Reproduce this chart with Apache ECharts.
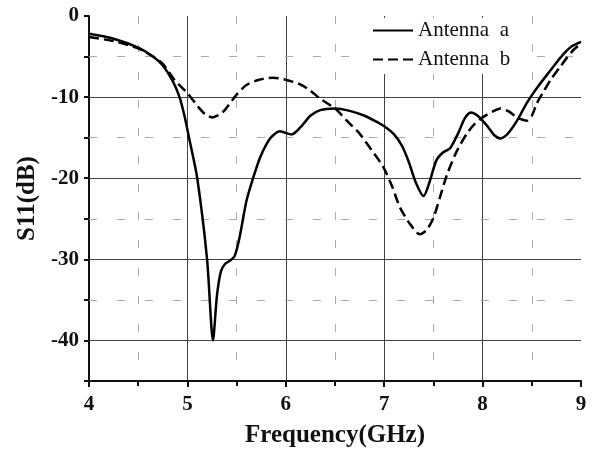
<!DOCTYPE html>
<html>
<head>
<meta charset="utf-8">
<script src="https://cdn.jsdelivr.net/npm/echarts@6/dist/echarts.min.js"></script>
<style>
  html, body { margin: 0; padding: 0; background: #fff; }
  #main { width: 606px; height: 453px; }
</style>
</head>
<body>
<div id="main"></div>
<script>
// Antenna a (solid)
const freqA = [4.0, 4.25, 4.5, 4.65, 4.75, 4.85, 4.92, 4.97, 5.02, 5.10, 5.20, 5.26, 5.30, 5.34, 5.38, 5.44, 5.48, 5.53, 5.60, 5.67, 5.74, 5.84, 5.94, 6.06, 6.15, 6.25, 6.35, 6.5, 6.65, 6.8, 6.9, 7.0, 7.1, 7.18, 7.25, 7.32, 7.40, 7.46, 7.53, 7.60, 7.67, 7.75, 7.82, 7.88, 7.95, 8.05, 8.12, 8.18, 8.25, 8.35, 8.45, 8.55, 8.69, 8.80, 8.90, 9.0]
const s11A  = [-2.2, -2.8, -3.9, -5.0, -6.1, -8.0, -10.0, -12.3, -15.2, -20.0, -30.0, -40.0, -34.5, -31.5, -30.6, -30.1, -29.6, -27.3, -22.8, -19.9, -17.4, -15.1, -14.2, -14.6, -13.7, -12.3, -11.6, -11.4, -11.7, -12.3, -12.9, -13.6, -14.6, -16.0, -18.0, -20.5, -22.2, -20.5, -17.8, -16.8, -16.3, -14.5, -12.6, -11.9, -12.3, -13.6, -14.7, -15.1, -14.6, -12.9, -10.7, -8.9, -6.7, -5.0, -3.8, -3.2]

// Antenna b (dashed)
const freqB = [4.0, 4.25, 4.5, 4.65, 4.75, 4.87, 5.0, 5.11, 5.18, 5.25, 5.32, 5.38, 5.5, 5.6, 5.72, 5.87, 5.98, 6.14, 6.25, 6.35, 6.5, 6.62, 6.75, 6.87, 6.99, 7.08, 7.16, 7.26, 7.36, 7.43, 7.50, 7.57, 7.64, 7.74, 7.84, 7.92, 8.0, 8.1, 8.18, 8.27, 8.35, 8.45, 8.5, 8.55, 8.62, 8.69, 8.78, 8.86, 8.93, 9.0]
const s11B  = [-2.6, -3.1, -4.0, -5.0, -5.9, -7.9, -9.5, -11.2, -12.1, -12.5, -12.2, -11.6, -9.7, -8.5, -7.9, -7.6, -7.8, -8.4, -9.2, -10.2, -11.4, -12.9, -14.5, -16.5, -18.6, -21.0, -23.6, -25.6, -26.9, -26.4, -24.9, -22.2, -19.5, -16.6, -14.5, -13.3, -12.5, -11.8, -11.4, -11.8, -12.5, -12.9, -12.3, -10.8, -9.3, -7.9, -6.4, -5.1, -4.1, -3.4]

const xTicks = [4, 5, 6, 7, 8, 9]
const yTickLabels = [0, -10, -20, -30, -40]
const majorY = [-10, -20, -30, -40]
const minorY = [-5, -15, -25, -35]

const serif = 'Liberation Serif'
const chart = echarts.init(document.getElementById('main'))

const gridLines = majorY.map(v => ({ yAxis: v, lineStyle: { color: '#444', width: 1, type: 'solid' } }))
  .concat(minorY.map(v => ({ yAxis: v, lineStyle: { color: '#aaa', width: 1, type: [8, 20] } })))

const option = {
  animation: false,
  backgroundColor: '#fff',
  grid: { left: 89, right: 25, top: 16, bottom: 72 },
  legend: {
    orient: 'vertical',
    left: 366,
    top: 18,
    itemWidth: 40,
    itemHeight: 12,
    itemGap: 8,
    padding: [2, 8, 4, 6],
    backgroundColor: '#fff',
    itemStyle: { opacity: 0 },
    textStyle: { fontFamily: serif, fontSize: 21, color: '#111' },
    data: ['Antenna  a', 'Antenna  b']
  },
  xAxis: {
    type: 'value',
    min: xTicks[0],
    max: xTicks[xTicks.length - 1],
    interval: 1,
    name: 'Frequency(GHz)',
    nameLocation: 'middle',
    nameGap: 42,
    nameTextStyle: { fontFamily: serif, fontWeight: 'bold', fontSize: 25, color: '#111' },
    axisLine: { onZero: false, lineStyle: { color: '#111', width: 2 } },
    axisTick: { show: true, length: 6, lineStyle: { color: '#111', width: 2 } },
    minorTick: { show: true, splitNumber: 2, length: 5, lineStyle: { color: '#111', width: 2 } },
    axisLabel: { margin: 13, fontFamily: serif, fontWeight: 'bold', fontSize: 21, color: '#111' },
    splitLine: { show: true, showMinLine: false, showMaxLine: false, lineStyle: { color: '#444', width: 1 } },
    minorSplitLine: { show: true, lineStyle: { color: '#aaa', width: 1, type: [8, 20] } }
  },
  yAxis: {
    type: 'value',
    min: -45,
    max: 0,
    interval: 5,
    name: 'S11(dB)',
    nameLocation: 'middle',
    nameRotate: 90,
    nameGap: 44,
    nameTextStyle: { fontFamily: serif, fontWeight: 'bold', fontSize: 25, color: '#111' },
    axisLine: { show: true, onZero: false, lineStyle: { color: '#111', width: 2 } },
    axisTick: { show: true, length: 5, lineStyle: { color: '#111', width: 2 } },
    axisLabel: {
      margin: 10,
      fontFamily: serif, fontWeight: 'bold', fontSize: 21, color: '#111',
      formatter: v => yTickLabels.includes(v) ? String(v) : ''
    },
    splitLine: { show: false }
  },
  series: [
    {
      name: 'Antenna  a',
      type: 'line',
      smooth: 0.25,
      showSymbol: false,
      symbol: 'none',
      z: 3,
      lineStyle: { color: '#000', width: 2.5 },
      itemStyle: { color: '#000' },
      data: freqA.map((f, i) => [f, s11A[i]]),
      markLine: {
        silent: true,
        z: 1,
        symbol: ['none', 'none'],
        label: { show: false },
        animation: false,
        data: gridLines
      }
    },
    {
      name: 'Antenna  b',
      type: 'line',
      smooth: 0.25,
      showSymbol: false,
      symbol: 'none',
      z: 3,
      lineStyle: { color: '#000', width: 2.5, type: [10, 5] },
      itemStyle: { color: '#000' },
      data: freqB.map((f, i) => [f, s11B[i]])
    }
  ]
}
chart.setOption(option)
</script>
</body>
</html>
